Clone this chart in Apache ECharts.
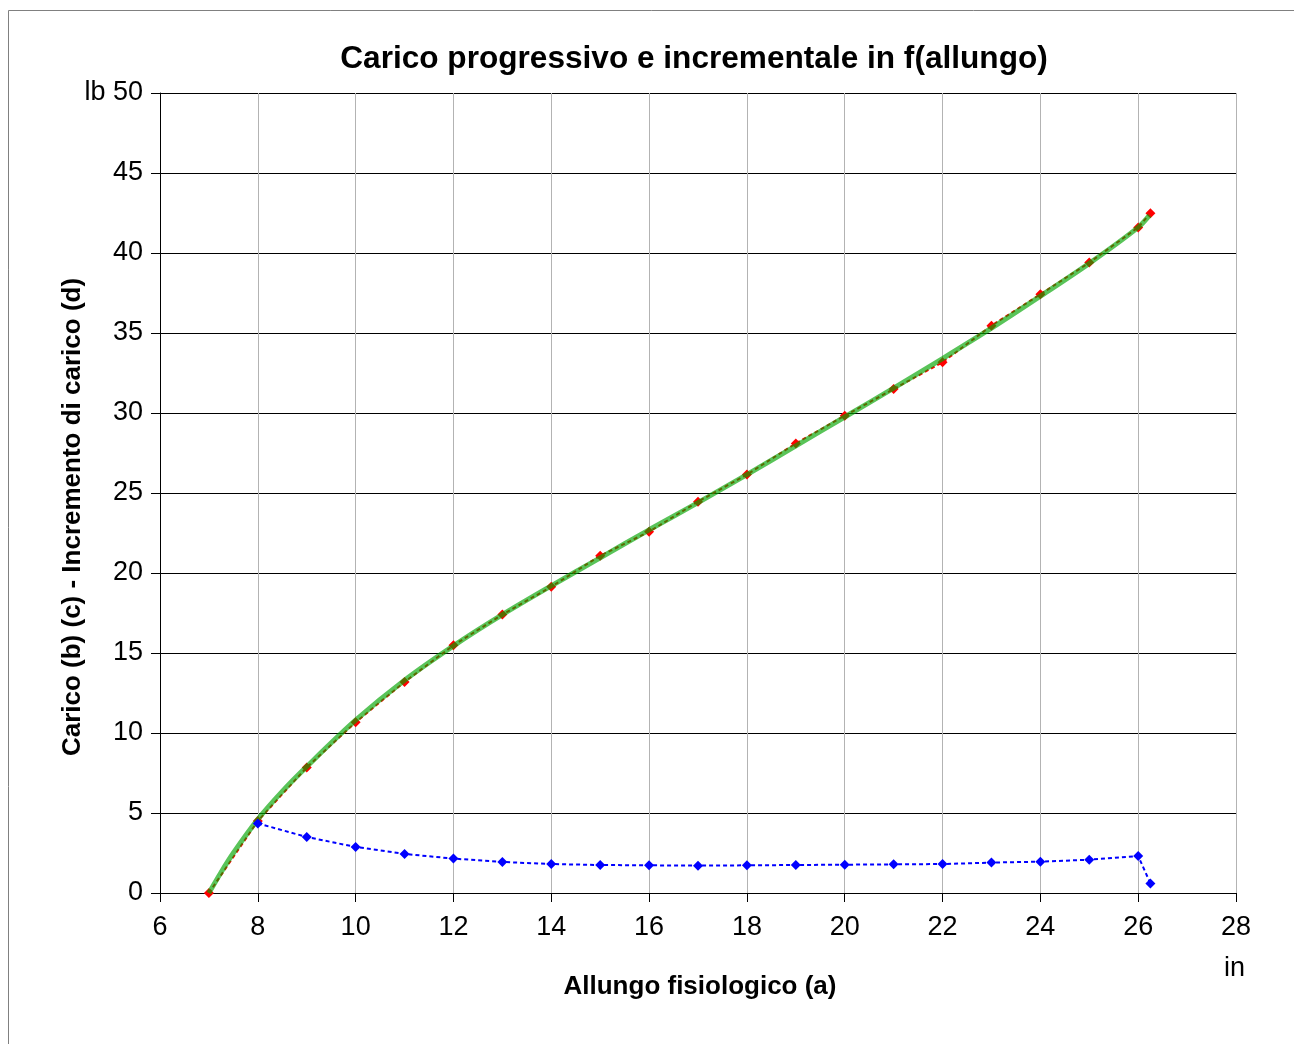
<!DOCTYPE html>
<html>
<head>
<meta charset="utf-8">
<script src="https://cdn.jsdelivr.net/npm/echarts@6/dist/echarts.min.js"></script>
<style>
html,body{margin:0;padding:0;background:#fff;}
#c{width:1294px;height:1044px;}
</style>
</head>
<body>
<div id="c"></div>
<script>
// Data
const xValues = [7, 8, 9, 10, 11, 12, 13, 14, 15, 16, 17, 18, 19, 20, 21, 22, 23, 24, 25, 26, 26.25];
const carico = [0, 4.5, 7.85, 10.67, 13.19, 15.48, 17.4, 19.14, 21.08, 22.58, 24.46, 26.15, 28.1, 29.83, 31.5, 33.17, 35.46, 37.42, 39.4, 41.6, 42.48];
const incremento = [null, 4.35, 3.5, 2.88, 2.44, 2.15, 1.94, 1.81, 1.75, 1.73, 1.71, 1.73, 1.75, 1.77, 1.79, 1.81, 1.9, 1.96, 2.08, 2.31, 0.6];
const trendX = [7, 7.25, 7.5, 8, 8.5, 9, 10, 11, 12, 13, 14, 15, 16, 17, 18, 19, 20, 21, 22, 23, 24, 25, 26, 26.23];
const trendY = [0, 1.3, 2.5, 4.6, 6.35, 7.9, 10.8, 13.3, 15.45, 17.4, 19.2, 20.95, 22.7, 24.4, 26.15, 27.95, 29.75, 31.55, 33.4, 35.3, 37.3, 39.35, 41.6, 42.35];
const xTicks = [6, 8, 10, 12, 14, 16, 18, 20, 22, 24, 26, 28];
const yTicks = [0, 5, 10, 15, 20, 25, 30, 35, 40, 45, 50];

const pair = (xs, ys) => xs.map((x, i) => [x, ys[i]]).filter(p => p[1] !== null);

const FONT = '"Liberation Sans", Arial, sans-serif';
const chart = echarts.init(document.getElementById('c'), null, {renderer: 'canvas'});
chart.setOption({
  animation: false,
  backgroundColor: '#fff',
  title: {
    text: 'Carico progressivo e incrementale in f(allungo)',
    left: 689, top: 38, textAlign: 'center',
    textStyle: {fontFamily: FONT, fontSize: 31.6, fontWeight: 'bold', color: '#000'}
  },
  grid: {left: 160, top: 93, right: 58, bottom: 151, containLabel: false},
  xAxis: {
    type: 'value', min: xTicks[0], max: xTicks[xTicks.length - 1], interval: 2,
    name: 'Allungo fisiologico (a)', nameLocation: 'middle', nameGap: 81,
    nameTextStyle: {fontFamily: FONT, fontSize: 26, fontWeight: 'bold', color: '#000', padding: [0, 0, 0, 4]},
    axisLine: {lineStyle: {color: '#000', width: 1}},
    axisTick: {show: true, length: 9, inside: false, lineStyle: {color: '#000'}},
    axisLabel: {fontFamily: FONT, fontSize: 27, color: '#000', margin: 21},
    splitLine: {show: true, lineStyle: {color: '#b3b3b3', width: 1}}
  },
  yAxis: {
    type: 'value', min: yTicks[0], max: yTicks[yTicks.length - 1], interval: 5,
    axisLine: {show: true, lineStyle: {color: '#000', width: 1}},
    axisTick: {show: true, length: 9, lineStyle: {color: '#000'}},
    axisLabel: {fontFamily: FONT, fontSize: 27, color: '#000', margin: 17,
      formatter: v => v === 50 ? 'lb 50' : String(v)},
    splitLine: {show: true, lineStyle: {color: '#000', width: 1}}
  },
  graphic: [
    {type: 'rect', shape: {x: 8.5, y: 10.5, width: 1300, height: 1050},
     style: {fill: 'none', stroke: '#808080', lineWidth: 1}, z: -10},
    {type: 'text', left: 1224, top: 955,
     style: {text: 'in', fontFamily: FONT, fontSize: 27, fill: '#000'}},
    {type: 'text', x: 73, y: 517, rotation: Math.PI / 2,
     style: {text: 'Carico (b) (c) - Incremento di carico (d)', fontFamily: FONT, fontSize: 26,
       fontWeight: 'bold', fill: '#000', align: 'center', verticalAlign: 'middle'}}
  ],
  series: [
    {
      name: 'Carico', type: 'line', data: pair(xValues, carico),
      symbol: 'diamond', symbolSize: 10,
      itemStyle: {color: '#ff0000'},
      lineStyle: {color: '#ff0000', width: 2, type: [4, 3]},
      z: 2
    },
    {
      name: 'Trend', type: 'line', data: pair(trendX, trendY), smooth: 0.3,
      symbol: 'none',
      lineStyle: {color: 'rgba(0,165,0,0.65)', width: 5},
      z: 3
    },
    {
      name: 'Incremento', type: 'line', data: pair(xValues, incremento),
      symbol: 'diamond', symbolSize: 10,
      itemStyle: {color: '#0000ff'},
      lineStyle: {color: '#0000ff', width: 2, type: [4, 3]},
      z: 4
    }
  ]
});
</script>
</body>
</html>
